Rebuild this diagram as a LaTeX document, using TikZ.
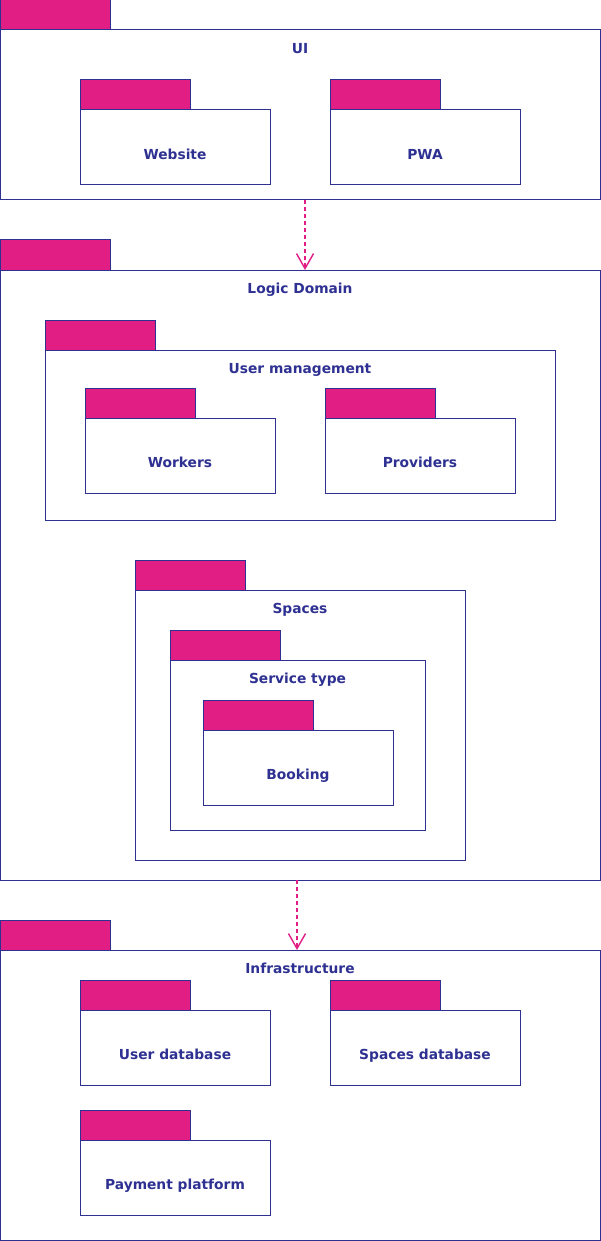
\documentclass[tikz,border=0pt]{standalone}
\usepackage{fontspec}
\setmainfont{DejaVu Sans}
\usepackage{tikz}
\usetikzlibrary{arrows.meta}
\usetikzlibrary{positioning}
\definecolor{pkgpink}{RGB}{224,30,132}
\definecolor{pkgblue}{RGB}{46,49,146}
\tikzset{basic/.style={draw=pkgblue,line width=1pt,inner sep=0pt,outer sep=0pt}}
\tikzset{pkgbody/.style={basic,fill=white,rectangle,anchor=north west}}
\tikzset{pkgtab/.style={basic,fill=pkgpink,minimum width=110pt,minimum height=30pt}}

\begin{document}
\begin{tikzpicture}[x=1pt,y=-1pt,text height=1.5ex,text depth=0.25ex]
  % labels of the packages
  \tikzstyle{pkgname}=[text=pkgblue,font=\fontsize{13.8}{16}\selectfont\bfseries,inner sep=0pt]
  \tikzstyle{depends}=[pkgpink,line width=1.4pt,dash pattern=on 4pt off 3pt,
                       -{Straight Barb[length=15pt,width=17pt,line width=1.4pt]}]
  \useasboundingbox (0,0) rectangle (601,1241);

  % UI layer
  \node (ui) [pkgbody,minimum width=600pt,minimum height=170pt] at (0,30) {};
  \node (ui_tab) [pkgtab,above right=0pt and 0pt of ui.north west] {};
  \node [pkgname] at ([yshift=-20.5pt]ui.north) {UI};
  \node (web) [pkgbody,minimum width=190pt,minimum height=75pt] at (80,110) {};
  \node (web_tab) [pkgtab,above right=0pt and 0pt of web.north west] {};
  \node [pkgname] at ([yshift=-9pt]web.center) {Website};
  \node (pwa) [pkgbody,minimum width=190pt,minimum height=75pt] at (330,110) {};
  \node (pwa_tab) [pkgtab,above right=0pt and 0pt of pwa.north west] {};
  \node [pkgname] at ([yshift=-9pt]pwa.center) {PWA};

  % Logic domain
  \node (logic) [pkgbody,minimum width=600pt,minimum height=610pt] at (0,270) {};
  \node (logic_tab) [pkgtab,above right=0pt and 0pt of logic.north west] {};
  \node [pkgname] at ([yshift=-20.5pt]logic.north) {Logic Domain};

  \node (users) [pkgbody,minimum width=510pt,minimum height=170pt] at (45,350) {};
  \node (users_tab) [pkgtab,above right=0pt and 0pt of users.north west] {};
  \node [pkgname] at ([yshift=-20.5pt]users.north) {User management};
  \node (workers) [pkgbody,minimum width=190pt,minimum height=75pt] at (85,418) {};
  \node (workers_tab) [pkgtab,above right=0pt and 0pt of workers.north west] {};
  \node [pkgname] at ([yshift=-9pt]workers.center) {Workers};
  \node (providers) [pkgbody,minimum width=190pt,minimum height=75pt] at (325,418) {};
  \node (providers_tab) [pkgtab,above right=0pt and 0pt of providers.north west] {};
  \node [pkgname] at ([yshift=-9pt]providers.center) {Providers};

  \node (spaces) [pkgbody,minimum width=330pt,minimum height=270pt] at (135,590) {};
  \node (spaces_tab) [pkgtab,above right=0pt and 0pt of spaces.north west] {};
  \node [pkgname] at ([yshift=-20.5pt]spaces.north) {Spaces};
  \node (service) [pkgbody,minimum width=255pt,minimum height=170pt] at (170,660) {};
  \node (service_tab) [pkgtab,above right=0pt and 0pt of service.north west] {};
  \node [pkgname] at ([yshift=-20.5pt]service.north) {Service type};
  \node (booking) [pkgbody,minimum width=190pt,minimum height=75pt] at (203,730) {};
  \node (booking_tab) [pkgtab,above right=0pt and 0pt of booking.north west] {};
  \node [pkgname] at ([yshift=-9pt]booking.center) {Booking};

  % Infrastructure
  \node (infra) [pkgbody,minimum width=600pt,minimum height=290pt] at (0,950) {};
  \node (infra_tab) [pkgtab,above right=0pt and 0pt of infra.north west] {};
  \node [pkgname] at ([yshift=-20.5pt]infra.north) {Infrastructure};
  \node (userdb) [pkgbody,minimum width=190pt,minimum height=75pt] at (80,1010) {};
  \node (userdb_tab) [pkgtab,above right=0pt and 0pt of userdb.north west] {};
  \node [pkgname] at ([yshift=-9pt]userdb.center) {User database};
  \node (spacesdb) [pkgbody,minimum width=190pt,minimum height=75pt] at (330,1010) {};
  \node (spacesdb_tab) [pkgtab,above right=0pt and 0pt of spacesdb.north west] {};
  \node [pkgname] at ([yshift=-9pt]spacesdb.center) {Spaces database};
  \node (payment) [pkgbody,minimum width=190pt,minimum height=75pt] at (80,1140) {};
  \node (payment_tab) [pkgtab,above right=0pt and 0pt of payment.north west] {};
  \node [pkgname] at ([yshift=-9pt]payment.center) {Payment platform};

  % dependencies between the layers
  \draw[depends] ([xshift=5pt]ui.south) -- ([xshift=5pt]logic.north);
  \draw[depends] ([xshift=-3pt]logic.south) -- ([xshift=-3pt]infra.north);
\end{tikzpicture}
\end{document}
